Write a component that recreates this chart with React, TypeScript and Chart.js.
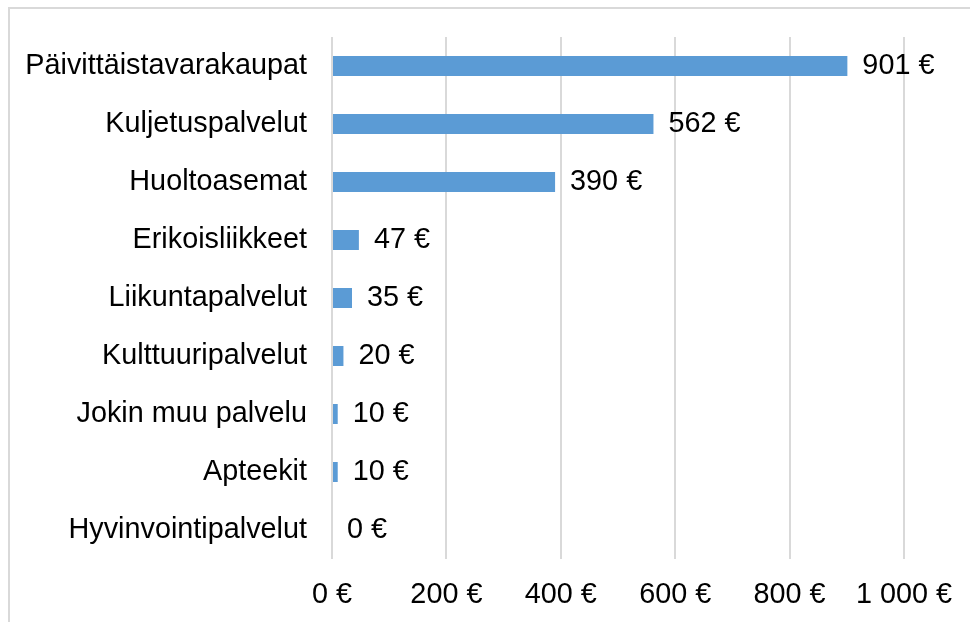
import React, { useEffect, useRef } from "react";
import { Chart, registerables } from "chart.js";

Chart.register(...registerables);

const categories = [
  "Päivittäistavarakaupat",
  "Kuljetuspalvelut",
  "Huoltoasemat",
  "Erikoisliikkeet",
  "Liikuntapalvelut",
  "Kulttuuripalvelut",
  "Jokin muu palvelu",
  "Apteekit",
  "Hyvinvointipalvelut",
];
const values = [901, 562, 390, 47, 35, 20, 10, 10, 0];
const xTickValues = [0, 200, 400, 600, 800, 1000];

const FONT = "'Liberation Sans', Arial, sans-serif";
const FONT_SIZE = 28.8;

function fmt(v: number): string {
  const s = String(Math.round(v)).replace(/\B(?=(\d{3})+(?!\d))/g, " ");
  return s + " €";
}

const valueLabels = {
  id: "valueLabels",
  afterDatasetsDraw(chart: any) {
    const ctx = chart.ctx;
    const meta = chart.getDatasetMeta(0);
    const data = chart.data.datasets[0].data as number[];
    ctx.save();
    ctx.font = `${FONT_SIZE}px ${FONT}`;
    ctx.fillStyle = "#000000";
    ctx.textAlign = "left";
    ctx.textBaseline = "middle";
    meta.data.forEach((bar: any, i: number) => {
      ctx.fillText(fmt(data[i]), bar.x + 15, bar.y);
    });
    ctx.restore();
  },
};

export default function App() {
  const ref = useRef<HTMLCanvasElement | null>(null);
  useEffect(() => {
    if (!ref.current) return;
    const chart = new Chart(ref.current, {
      type: "bar",
      data: {
        labels: categories,
        datasets: [
          {
            data: values,
            backgroundColor: "#5B9BD5",
            borderWidth: 0,
            categoryPercentage: 1,
            barPercentage: 0.345,
          },
        ],
      },
      options: {
        indexAxis: "y",
        responsive: false,
        animation: false,
        layout: { padding: { top: 37, right: 66, left: 0, bottom: 0 } },
        plugins: { legend: { display: false }, tooltip: { enabled: false } },
        scales: {
          x: {
            min: 0,
            max: 1000,
            afterBuildTicks: (scale: any) => {
              scale.ticks = xTickValues.map((v) => ({ value: v }));
            },
            afterFit: (scale: any) => {
              scale.height = 63;
              scale.paddingLeft = 0;
              scale.paddingRight = 0;
            },
            border: { display: false },
            grid: { color: "#d9d9d9", lineWidth: 2, drawTicks: false },
            ticks: {
              padding: 19,
              color: "#000000",
              font: { family: FONT, size: FONT_SIZE },
              maxRotation: 0,
              autoSkip: false,
              callback: (v: any) => fmt(Number(v)),
            },
          },
          y: {
            afterFit: (scale: any) => {
              scale.width = 332;
              scale.paddingTop = 0;
              scale.paddingBottom = 0;
            },
            border: { display: false },
            grid: { display: false, drawTicks: false },
            ticks: {
              padding: 25,
              color: "#000000",
              font: { family: FONT, size: FONT_SIZE },
              autoSkip: false,
            },
          },
        },
      },
      plugins: [valueLabels],
    });
    return () => chart.destroy();
  }, []);
  return (
    <div style={{ position: "fixed", left: 0, top: 0, width: 970, height: 622, background: "#fff", overflow: "hidden" }}>
      <div
        style={{
          position: "absolute",
          left: 8,
          top: 7,
          width: 1000,
          height: 700,
          border: "2px solid #d9d9d9",
          boxSizing: "border-box",
        }}
      />
      <canvas ref={ref} width={970} height={622} style={{ position: "absolute", left: 0, top: 0 }} />
    </div>
  );
}
